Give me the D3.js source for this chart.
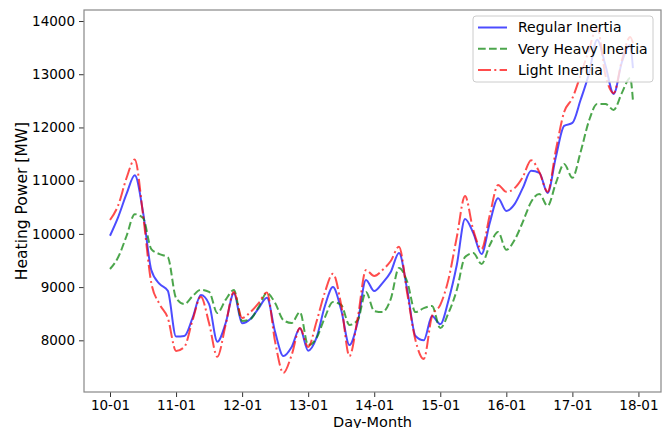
<!DOCTYPE html>
<html>
<head>
<meta charset="utf-8">
<script src="https://cdn.jsdelivr.net/npm/d3@7"></script>
<style>
  body { margin: 0; background: #fff; }
  svg { display: block; font-family: 'DejaVu Sans', sans-serif; }
</style>
</head>
<body>
<div id="chart"></div>
<script>
// hours since 10-01 00:00, 3-hourly, last sample at hour 190
const hours = d3.range(0, 190, 3).concat([190]);

const regularInertia = [
    9965, 10320, 10750, 11100, 10410, 9320, 9060, 8930,
    8070, 8080, 8420, 8850, 8680, 7975, 8320, 8885,
    8320, 8400, 8600, 8800, 8155, 7705, 7875, 8225,
    7805, 8045, 8630, 9000, 8570, 7910, 8345, 9135,
    8925, 9075, 9285, 9640, 8945, 8080, 8000, 8455,
    8305, 8755, 9415, 10280, 10015, 9620, 10210, 10670,
    10430, 10560, 10865, 11185, 11145, 10770, 11445, 12030,
    12085, 12520, 13005, 13650, 13170, 12630, 13230, 13550,
    13115
];
const veryHeavyInertia = [
    9340, 9565, 9960, 10370, 10300, 9715, 9620, 9560,
    8795, 8680, 8830, 8950, 8910, 8515, 8760, 8945,
    8365, 8400, 8625, 8890, 8700, 8380, 8325, 8530,
    7910, 8040, 8420, 8720, 8665, 8290, 8380, 8910,
    8550, 8530, 8775, 9360, 9100, 8530, 8605, 8645,
    8230, 8515, 8945, 9565, 9640, 9435, 9790, 10035,
    9700, 9885, 10225, 10600, 10750, 10525, 10955, 11315,
    11055, 11540, 12120, 12440, 12440, 12330, 12650, 12930,
    12510
];
const lightInertia = [
    10260, 10540, 11050, 11400, 10360, 9080, 8680, 8420,
    7800, 7875, 8380, 8820, 8320, 7690, 8290, 8910,
    8420, 8530, 8700, 8900, 7970, 7385, 7725, 8230,
    7875, 8345, 8890, 9250, 8665, 7705, 8420, 9320,
    9210, 9320, 9490, 9760, 8880, 8000, 7650, 8455,
    8665, 9150, 9940, 10710, 10070, 9715, 10355, 10920,
    10790, 10860, 11070, 11385, 11160, 10790, 11575, 12290,
    12550, 12985, 13455, 13885, 12985, 12645, 13265, 13700,
    13585
];

const xTickHours = [0, 24, 48, 72, 96, 120, 144, 168, 192];
const xTickLabels = ['10-01', '11-01', '12-01', '13-01', '14-01', '15-01', '16-01', '17-01', '18-01'];
const yTicks = [8000, 9000, 10000, 11000, 12000, 13000, 14000];

const seriesNames = ['Regular Inertia', 'Very Heavy Inertia', 'Light Inertia'];

//dimensions
const width = 672, height = 428;
const margin = { top: 10, right: 11, bottom: 36, left: 84 };
const graphWidth = width - margin.left - margin.right;
const graphHeight = height - margin.top - margin.bottom;

const series = [
    { name: seriesNames[0], values: regularInertia, color: 'blue', dash: null },
    { name: seriesNames[1], values: veryHeavyInertia, color: 'green', dash: '7.7,3.3' },
    { name: seriesNames[2], values: lightInertia, color: 'red', dash: '13,3.3,2,3.3' }
];

const svg = d3.select('#chart')
    .append('svg')
    .attr('width', width)
    .attr('height', height);

const graph = svg.append('g')
    .attr('transform', `translate(${margin.left}, ${margin.top})`);

//scales
const x = d3.scaleLinear().domain([-9.45, 200.2]).range([0, graphWidth]);
const y = d3.scaleLinear().domain([7029, 14207]).range([graphHeight, 0]);

graph.append('clipPath')
    .attr('id', 'clip')
    .append('rect')
    .attr('width', graphWidth)
    .attr('height', graphHeight);

const line = d3.line()
    .x((d, i) => x(hours[i]))
    .y(d => y(d))
    .curve(d3.curveMonotoneX);

graph.append('g')
    .attr('clip-path', 'url(#clip)')
    .selectAll('path')
    .data(series)
    .join('path')
    .attr('fill', 'none')
    .attr('stroke', d => d.color)
    .attr('stroke-opacity', 0.7)
    .attr('stroke-width', 2)
    .attr('stroke-dasharray', d => d.dash)
    .attr('d', d => line(d.values));

// axes
const xAxis = d3.axisBottom(x)
    .tickValues(xTickHours)
    .tickSize(5)
    .tickPadding(3)
    .tickFormat((d, i) => xTickLabels[i]);

const yAxis = d3.axisLeft(y)
    .tickValues(yTicks)
    .tickSize(5)
    .tickPadding(4)
    .tickFormat(d => d);

const xAxisGroup = graph.append('g')
    .attr('transform', `translate(0, ${graphHeight})`)
    .call(xAxis);
const yAxisGroup = graph.append('g').call(yAxis);

[xAxisGroup, yAxisGroup].forEach(g => {
    g.select('.domain').remove();
    g.selectAll('line').attr('stroke', '#333').attr('stroke-width', 1);
    g.selectAll('text')
        .attr('fill', '#000')
        .style('font-size', '13.5px')
        .style('font-family', "'DejaVu Sans', sans-serif");
});

// frame
graph.append('rect')
    .attr('x', 0)
    .attr('y', 0)
    .attr('width', graphWidth)
    .attr('height', graphHeight)
    .attr('fill', 'none')
    .attr('stroke', '#888')
    .attr('stroke-width', 1.2);

// axis labels
svg.append('text')
    .attr('x', margin.left + graphWidth / 2)
    .attr('y', 426.5)
    .attr('text-anchor', 'middle')
    .style('font-size', '14.5px')
    .text('Day-Month');

svg.append('text')
    .attr('transform', `translate(27, ${margin.top + graphHeight / 2}) rotate(-90)`)
    .attr('text-anchor', 'middle')
    .style('font-size', '15.5px')
    .text('Heating Power [MW]');

// legend
const legend = svg.append('g')
    .attr('transform', 'translate(473, 16)');

legend.append('rect')
    .attr('width', 180)
    .attr('height', 66)
    .attr('rx', 3)
    .attr('fill', '#fff')
    .attr('fill-opacity', 0.8)
    .attr('stroke', '#ccc');

const item = legend.selectAll('g.item')
    .data(series)
    .join('g')
    .attr('class', 'item')
    .attr('transform', (d, i) => `translate(0, ${11.5 + i * 21.3})`);

item.append('line')
    .attr('x1', 5)
    .attr('x2', 34)
    .attr('stroke', d => d.color)
    .attr('stroke-opacity', 0.7)
    .attr('stroke-width', 2)
    .attr('stroke-dasharray', d => d.dash);

item.append('text')
    .attr('x', 45)
    .attr('dy', '0.35em')
    .style('font-size', '14px')
    .text(d => d.name);
</script>
</body>
</html>
